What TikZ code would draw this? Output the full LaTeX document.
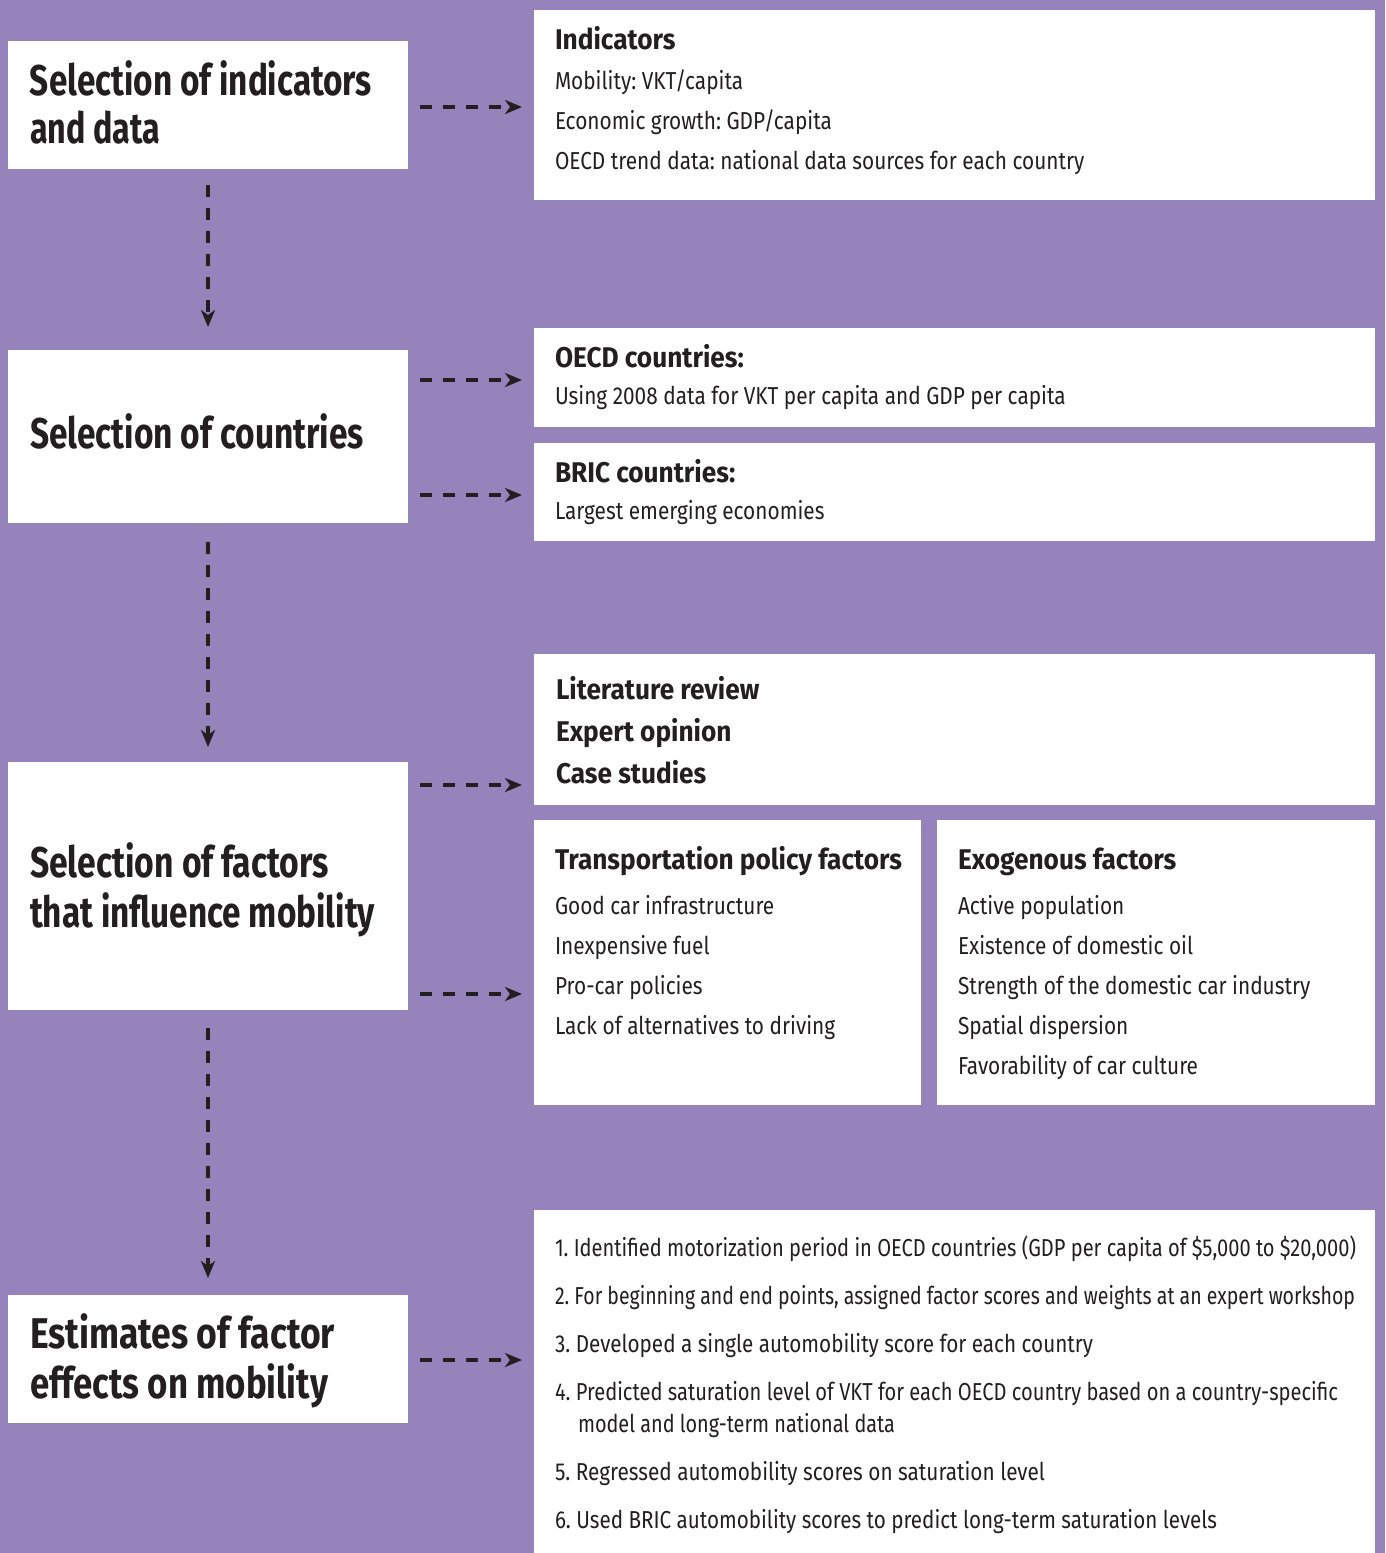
\documentclass[tikz,border=0pt]{standalone}
\usepackage{fontspec}
\setmainfont{Fira Sans}
\newfontfamily\bodyfont{Fira Sans}[FakeStretch=0.85]
\newfontfamily\stepfont{Fira Sans}[FakeStretch=0.82]
\newfontfamily\headfont{Fira Sans}[FakeStretch=0.785]
\newfontfamily\subheadfont{Fira Sans}[FakeStretch=0.92]
\usetikzlibrary{arrows.meta}
\definecolor{bg}{RGB}{151,131,187}
\definecolor{ink}{RGB}{35,31,32}
\newcommand\fitw[2]{\resizebox{#1}{\height}{#2}}
\frenchspacing
\tikzset{
  wbox/.style={fill=white, draw=none, inner sep=0pt, outer sep=0pt, anchor=north west},
  txt/.style={anchor=base west, inner sep=0pt, outer sep=0pt, text=ink},
  bigtitle/.style={txt, font=\headfont\bfseries\fontsize{43pt}{45pt}\selectfont\frenchspacing},
  boxtitle/.style={txt, font=\subheadfont\bfseries\fontsize{28.5pt}{30pt}\selectfont\frenchspacing},
  body/.style={txt, font=\bodyfont\fontsize{24.5pt}{26pt}\selectfont\frenchspacing},
  stepline/.style={txt, font=\stepfont\fontsize{24.5pt}{26pt}\selectfont\frenchspacing},
  flow/.style={draw=ink, line width=3.2pt, dash pattern=on 12pt off 11pt,
    -{Stealth[length=17pt,width=14pt,inset=5pt]}},
}
\begin{document}
\begin{tikzpicture}[x=1pt,y=-1pt]
\fill[bg] (0,0) rectangle (1385,1553);
\useasboundingbox (0,0) rectangle (1385,1553);
% left boxes
\node[wbox, minimum width=400pt, minimum height=128pt] (b1) at (8,41) {};
\node[wbox, minimum width=400pt, minimum height=173pt] (b2) at (8,350) {};
\node[wbox, minimum width=400pt, minimum height=248pt] (b3) at (8,762) {};
\node[wbox, minimum width=400pt, minimum height=128pt] (b4) at (8,1295) {};
% right boxes
\node[wbox, minimum width=841pt, minimum height=190pt] (r1) at (534,10) {};
\node[wbox, minimum width=841pt, minimum height=99pt] (r2) at (534,328) {};
\node[wbox, minimum width=841pt, minimum height=98pt] (r3) at (534,443) {};
\node[wbox, minimum width=841pt, minimum height=151pt] (r4) at (534,654) {};
\node[wbox, minimum width=387pt, minimum height=285pt] (r5) at (534,820) {};
\node[wbox, minimum width=438pt, minimum height=285pt] (r6) at (937,820) {};
\node[wbox, minimum width=841pt, minimum height=343pt] (r7) at (534,1210) {};
% left titles
\node[bigtitle] (t1a) at (30,95) {\fitw{342pt}{Selection of indicators}};
\node[bigtitle] (t1b) at (30,143) {\fitw{130pt}{and data}};
\node[bigtitle] (t2a) at (30,448) {\fitw{334pt}{Selection of countries}};
\node[bigtitle] (t3a) at (30,877) {\fitw{299pt}{Selection of factors}};
\node[bigtitle] (t3b) at (30,927) {\fitw{345pt}{that influence mobility}};
\node[bigtitle] (t4a) at (30,1348) {\fitw{305pt}{Estimates of factor}};
\node[bigtitle] (t4b) at (30,1398) {\fitw{298pt}{effects on mobility}};
% indicators
\node[boxtitle] (i0) at (555,49) {Indicators};
\node[body] (i1) at (555,89) {Mobility: VKT/capita};
\node[body] (i2) at (555,129) {Economic growth: GDP/capita};
\node[body] (i3) at (555,169) {OECD trend data: national data sources for each country};
% countries
\node[boxtitle] (o0) at (555,367) {OECD countries:};
\node[body] (o1) at (555,404) {Using 2008 data for VKT per capita and GDP per capita};
\node[boxtitle] (c0) at (555,482) {BRIC countries:};
\node[body] (c1) at (555,519) {Largest emerging economies};
% literature
\node[boxtitle] (l1) at (556,699) {Literature review};
\node[boxtitle] (l2) at (556,741) {Expert opinion};
\node[boxtitle] (l3) at (556,783) {Case studies};
% transportation policy factors
\node[boxtitle] (p0) at (555,869) {Transportation policy factors};
\node[body] (p1) at (555,914) {Good car infrastructure};
\node[body] (p2) at (555,954) {Inexpensive fuel};
\node[body] (p3) at (555,994) {Pro-car policies};
\node[body] (p4) at (555,1034) {Lack of alternatives to driving};
% exogenous factors
\node[boxtitle] (e0) at (958,869) {Exogenous factors};
\node[body] (e1) at (958,914) {Active population};
\node[body] (e2) at (958,954) {Existence of domestic oil};
\node[body] (e3) at (958,994) {Strength of the domestic car industry};
\node[body] (e4) at (958,1034) {Spatial dispersion};
\node[body] (e5) at (958,1074) {Favorability of car culture};
% steps
\node[stepline] (s1) at (555,1256) {\fitw{801pt}{1. Identified motorization period in OECD countries (GDP per capita of \$5,000 to \$20,000)}};
\node[stepline] (s2) at (555,1304) {\fitw{800pt}{2. For beginning and end points, assigned factor scores and weights at an expert workshop}};
\node[stepline] (s3) at (555,1352) {\fitw{538pt}{3. Developed a single automobility score for each country}};
\node[stepline] (s4) at (555,1400) {\fitw{783pt}{4. Predicted saturation level of VKT for each OECD country based on a country-specific}};
\node[stepline] (s4b) at (578,1432) {\fitw{317pt}{model and long-term national data}};
\node[stepline] (s5) at (555,1480) {\fitw{490pt}{5. Regressed automobility scores on saturation level}};
\node[stepline] (s6) at (555,1528) {\fitw{662pt}{6. Used BRIC automobility scores to predict long-term saturation levels}};
% connector heights
\coordinate (h1) at (0,107);
\coordinate (h2) at (0,380);
\coordinate (h3) at (0,495);
\coordinate (h4) at (0,785);
\coordinate (h5) at (0,994);
\coordinate (h6) at (0,1360);
% horizontal connectors
\draw[flow, shorten <=12pt, shorten >=12pt] (b1.east |- h1) -- (r1.west |- h1);
\draw[flow, shorten <=12pt, shorten >=12pt] (b2.east |- h2) -- (r2.west |- h2);
\draw[flow, shorten <=12pt, shorten >=12pt] (b2.east |- h3) -- (r3.west |- h3);
\draw[flow, shorten <=12pt, shorten >=12pt] (b3.east |- h4) -- (r4.west |- h4);
\draw[flow, shorten <=12pt, shorten >=12pt] (b3.east |- h5) -- (r5.west |- h5);
\draw[flow, shorten <=12pt, shorten >=12pt] (b4.east |- h6) -- (r7.west |- h6);
% vertical connectors
\draw[flow, shorten <=16pt, shorten >=23pt] (b1.south) -- (b2.north);
\draw[flow, shorten <=19pt, shorten >=15pt] (b2.south) -- (b3.north);
\draw[flow, shorten <=18pt, shorten >=17pt] (b3.south) -- (b4.north);
\end{tikzpicture}
\end{document}
